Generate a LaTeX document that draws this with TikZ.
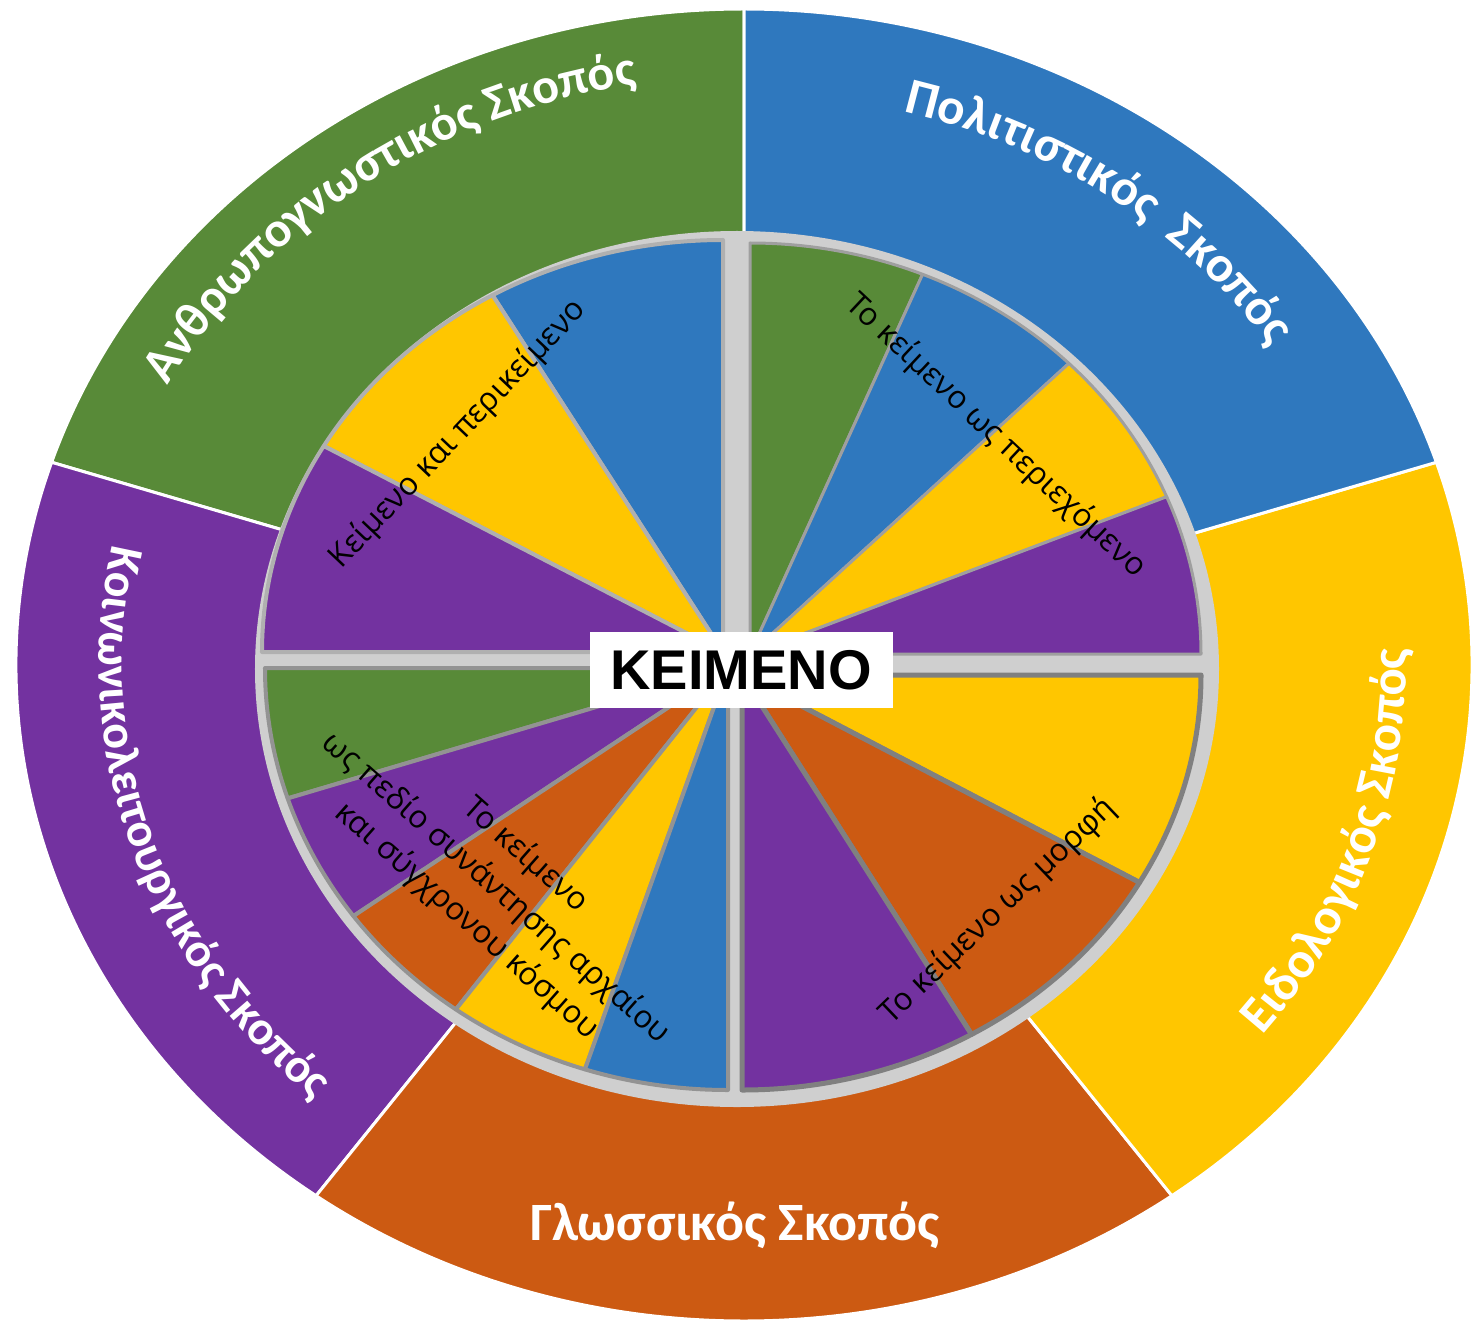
\documentclass[tikz,border=0pt]{standalone}
\usepackage{fontspec}
\setmainfont{Open Sans}
\newfontfamily\calib{Carlito}
\newfontfamily\arialb{Liberation Sans}
\usetikzlibrary{decorations.text}
\definecolor{grn}{HTML}{588A38}
\definecolor{blu}{HTML}{2F78BE}
\definecolor{yel}{HTML}{FFC600}
\definecolor{org}{HTML}{CC5A12}
\definecolor{pur}{HTML}{7332A0}
\definecolor{gap}{HTML}{CFCFCF}
\tikzset{
  ringtext/.style 2 args={decorate, decoration={text along path, text align=center,
      text color=white, text={|\calib\bfseries\fontsize{#1}{#1}\selectfont|#2}}}
}

\begin{document}
\begin{tikzpicture}[x=0.5pt, y=0.5pt,
    slice/.style={fill=#1, line join=round},
    inner/.style={font=\fontsize{15.8}{22}\selectfont, align=center}]
  \useasboundingbox (-740,-662) rectangle (741,666);

  % outer ring
  \foreach \c [count=\i from 0] in {grn,pur,org,yel,blu}
    \filldraw[slice=\c, draw=white, line width=1.5pt] (4,1) -- ++({90+72*\i}:728 and 656)
      arc[start angle={90+72*\i}, delta angle=72, x radius=728, y radius=656] -- cycle;

  \path[ringtext={25}{Ανθρωπογνωστικός Σκοπός}] (4,1) ++(162:654 and 589)
    arc[start angle=162, end angle=90, x radius=654, y radius=589];
  \path[ringtext={25.5}{Πολιτιστικός \ Σκοπός}] (4,1) ++(90:634 and 572)
    arc[start angle=90, end angle=18, x radius=634, y radius=572];
  \path[ringtext={25.5}{Ειδολογικός Σκοπός}] (4,1) ++(-54:662 and 596)
    arc[start angle=-54, end angle=18, x radius=662, y radius=596];
  \path[ringtext={24}{Κοινωνικολειτουργικός Σκοπός}] (4,1) ++(162:645 and 582)
    arc[start angle=162, end angle=234, x radius=645, y radius=582];
  \node[text=white, font=\calib\bfseries\fontsize{27}{27}\selectfont] (glo) at (-5,-559) {Γλωσσικός Σκοπός};

  % inner disc
  \fill[gap] (-3,-3) ellipse [x radius=482, y radius=438];

  % top left
  \foreach \a/\c in {90/blu,120/yel,150/pur}
    \filldraw[slice=\c, draw=gap!85!black, line width=2pt] (-17,14) -- ++(\a:461 and 412)
      arc[start angle=\a, delta angle=30, x radius=461, y radius=412] -- cycle;
  % top right
  \foreach \a/\c in {67.5/grn,45/blu,22.5/yel,0/pur}
    \filldraw[slice=\c, draw=gray!75, line width=1.5pt] (10,12) -- ++(\a:451 and 411)
      arc[start angle=\a, delta angle=22.5, x radius=451, y radius=411] -- cycle;
  % bottom right
  \foreach \a/\c in {-30/yel,-60/org,-90/pur}
    \filldraw[slice=\c, draw=gray, line width=2.5pt] (2,-9) -- ++(\a:459 and 415)
      arc[start angle=\a, delta angle=30, x radius=459, y radius=415] -- cycle;
  % bottom left
  \foreach \a/\c in {180/grn,198/pur,216/org,234/yel,252/blu}
    \filldraw[slice=\c, draw=gray!85, line width=2pt] (-12,-2) -- ++(\a:463 and 422)
      arc[start angle=\a, delta angle=18, x radius=463, y radius=422] -- cycle;

  \node[inner, rotate=46.5] (kp) at (-282,232) {Κείμενο και περικείμενο};
  \node[inner, rotate=-43.2] (kpe) at (256,230) {Το κείμενο ως περιεχόμενο};
  \node[inner, rotate=43.7] (km) at (258,-245) {Το κείμενο ως μορφή};
  \node[inner, rotate=-41.5] (ks) at (-244,-222) {Το κείμενο\\ως πεδίο συνάντησης αρχαίου\\και σύγχρονου κόσμου};

  \node[fill=white, minimum width=151.5pt, minimum height=38pt, inner sep=0pt,
    font=\arialb\bfseries\fontsize{28}{28}\selectfont] (kei) at (1,-4) {KEIMENO};
\end{tikzpicture}
\end{document}
